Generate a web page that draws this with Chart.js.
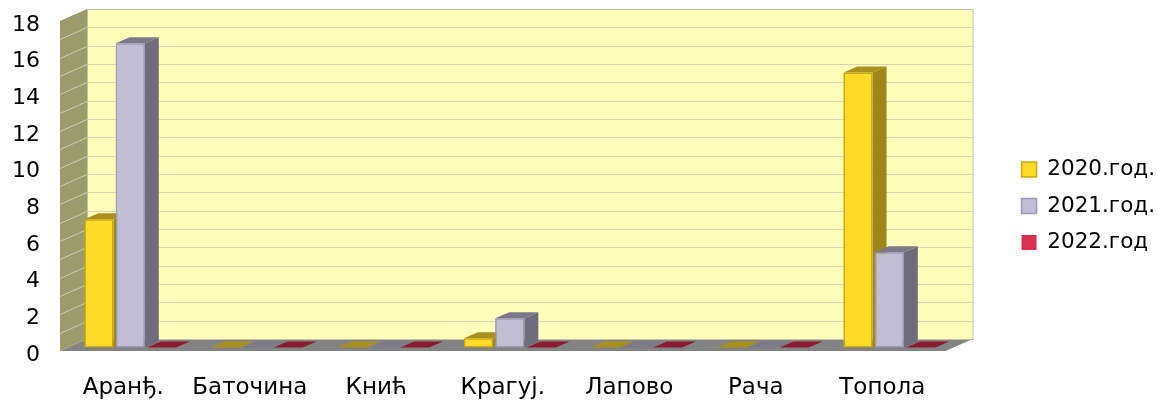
<!DOCTYPE html>
<html>
<head>
<meta charset="utf-8">
<title>Стопа по општинама</title>
<script src="https://cdn.jsdelivr.net/npm/chart.js@4.4.0/dist/chart.umd.min.js"></script>
<style>
  html, body { margin: 0; padding: 0; background: #fff; }
  #wrap { width: 1157px; height: 400px; }
</style>
</head>
<body>
<div id="wrap"><canvas id="rateChart"></canvas></div>
<script>
const municipalities = ["Аранђ.", "Баточина", "Кнић", "Крагуј.", "Лапово", "Рача", "Топола"];
const values2020 = [7, 0, 0, 0.5, 0, 0, 15];
const values2021 = [16.6, 0, 0, 1.6, 0, 0, 5.2];
const values2022 = [0, 0, 0, 0, 0, 0, 0];
const seriesNames = ["2020.год.", "2021.год.", "2022.год"];
const yMax = 18;

// box walls sit behind the axis plane, bars sit a bit in front of them
const WALL_DX = 27, WALL_DY = -12;
const BAR_SHIFT_X = 7, BAR_SHIFT_Y = -3.5;
const BAR_DX = 14, BAR_DY = -6;

const frontColors = ["#ffdb28", "#c1bdd5", "#d8304f"];
const edgeColors = ["#c9aa12", "#9d98b6", "#a81f3a"];
const sideColors = ["#9e861a", "#6f6d7d", "#7a1428"];
const topColors = ["#a88f1e", "#7a7889", "#8a1a30"];

Chart.defaults.font.family = "'DejaVu Sans', 'Liberation Sans', sans-serif";
Chart.defaults.color = "#000";

function poly(ctx, pts, fill) {
    ctx.beginPath();
    ctx.moveTo(pts[0][0], pts[0][1]);
    for (let i = 1; i < pts.length; i++) ctx.lineTo(pts[i][0], pts[i][1]);
    ctx.closePath();
    ctx.fillStyle = fill;
    ctx.fill();
}

function line(ctx, x1, y1, x2, y2, color) {
    ctx.beginPath();
    ctx.moveTo(x1, y1);
    ctx.lineTo(x2, y2);
    ctx.strokeStyle = color;
    ctx.stroke();
}

const depthPlugin = {
    id: "depth3d",
    beforeDatasetsDraw(chart) {
        const {ctx, chartArea: {left, right}, scales: {y}} = chart;
        const y0 = y.getPixelForValue(0);
        const yTop = y.getPixelForValue(yMax);
        ctx.save();
        // floor
        poly(ctx, [[left, y0], [right, y0], [right + WALL_DX, y0 + WALL_DY], [left + WALL_DX, y0 + WALL_DY]], "#838383");
        // left wall
        poly(ctx, [[left, y0], [left, yTop], [left + WALL_DX, yTop + WALL_DY], [left + WALL_DX, y0 + WALL_DY]], "#9b9b6b");
        // back wall
        ctx.fillStyle = "#ffffbb";
        ctx.fillRect(left + WALL_DX, yTop + WALL_DY, right - left, y0 - yTop);
        ctx.lineWidth = 1;
        for (let v = 1; v < yMax; v++) {
            const py = Math.round(y.getPixelForValue(v) + WALL_DY) + 0.5;
            line(ctx, left + WALL_DX, py, right + WALL_DX, py, "#d8d5b4");
            line(ctx, left, py - WALL_DY, left + WALL_DX, py, "#cfcfb3");
        }
        ctx.strokeStyle = "#c2c1a0";
        ctx.strokeRect(left + WALL_DX + 0.5, yTop + WALL_DY + 0.5, right - left, y0 - yTop);
        ctx.restore();
        ctx.save();
        ctx.translate(BAR_SHIFT_X, BAR_SHIFT_Y);
    },
    afterDatasetsDraw(chart) {
        const ctx = chart.ctx;
        // redraw bars series by series so each front face covers the previous side face
        chart.data.datasets.forEach((ds, i) => {
            const meta = chart.getDatasetMeta(i);
            meta.data.forEach(el => {
                const {x, y, base, width} = el.getProps(["x", "y", "base", "width"], true);
                const l = x - width / 2, r = x + width / 2;
                if (base - y > 0.5) {
                    poly(ctx, [[r, y], [r + BAR_DX, y + BAR_DY], [r + BAR_DX, base + BAR_DY], [r, base]], sideColors[i]);
                }
                poly(ctx, [[l, y], [l + BAR_DX, y + BAR_DY], [r + BAR_DX, y + BAR_DY], [r, y]], topColors[i]);
                el.draw(ctx, chart.chartArea);
            });
        });
        ctx.restore();
    }
};

new Chart(document.getElementById("rateChart"), {
    type: "bar",
    data: {
        labels: municipalities,
        datasets: [values2020, values2021, values2022].map((vals, i) => ({
            label: seriesNames[i],
            data: vals,
            backgroundColor: frontColors[i],
            borderColor: edgeColors[i],
            borderWidth: c => (c.raw > 0 ? 1.5 : 0),
            borderSkipped: false,
            categoryPercentage: 0.742,
            barPercentage: 0.93,
        })),
    },
    plugins: [depthPlugin],
    options: {
        responsive: true,
        maintainAspectRatio: false,
        animation: false,
        layout: { padding: { top: 12, left: 0, right: -8, bottom: 0 } },
        scales: {
            x: {
                grid: { display: false, drawTicks: false },
                border: { display: false },
                ticks: { font: { size: 23 }, padding: 23 },
                afterFit: s => { s.height = 49; },
            },
            y: {
                min: 0,
                max: yMax,
                grid: { display: false, drawTicks: false },
                border: { display: false },
                ticks: { stepSize: 2, font: { size: 22 }, padding: 20, labelOffset: 4 },
                afterFit: s => {
                    s.width = 60;
                    s.paddingTop = 21;
                },
            },
            yRight: {
                type: "linear",
                position: "right",
                grid: { display: false, drawTicks: false },
                border: { display: false },
                ticks: { display: false },
                afterFit: s => { s.width = 61; },
            },
        },
        plugins: {
            tooltip: { enabled: false },
            legend: {
                position: "right",
                labels: {
                    boxWidth: 15,
                    boxHeight: 15,
                    padding: 15,
                    font: { size: 21.5 },
                },
            },
        },
    },
});
</script>
</body>
</html>
